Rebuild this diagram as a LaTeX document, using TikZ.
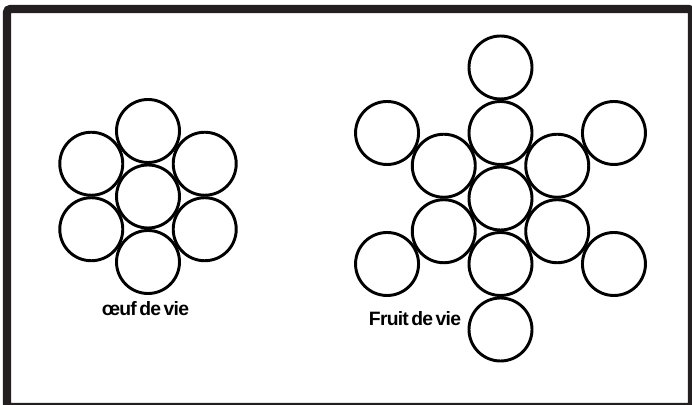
\documentclass[tikz,border=0pt]{standalone}
\usepackage{fontspec}
\setmainfont{Liberation Sans}
\newfontfamily\captionfont{Liberation Sans}[LetterSpace=-4,WordSpace=0.55]
\usetikzlibrary{positioning,calc}
\definecolor{FrameInk}{HTML}{231F20}

\tikzset{
  disc/.style={circle,draw=black,line width=2.5pt,minimum size=1.89cm,inner sep=0pt},
  caption/.style={font=\captionfont\fontsize{16.5}{16.5}\selectfont\bfseries,inner sep=0pt}
}

\begin{document}
\begin{tikzpicture}[x=0.03cm,y=0.03cm]
  \useasboundingbox (0,0) rectangle (692,405);
  \clip (0,0) rectangle (692,405);
  \draw[FrameInk,line width=0.25cm,rounded corners=3] (7,396) rectangle (692,-2);

  % egg of life
  \node[disc] (egg0) at (148,208.5) {};
  \foreach \a [count=\i] in {90,30,-30,-90,-150,150}
    \node[disc] (egg\i) at ($(egg0)+(\a:65.5)$) {};
  \node[caption] (egglabel) at (145.5,96) {œuf de vie};

  % fruit of life
  \node[disc] (fruit0) at (500.5,206.5) {};
  \foreach \a [count=\i] in {90,30,-30,-90,-150,150} {
    \node[disc] (fruit\i) at ($(fruit0)+(\a:65.5)$) {};
    \node[disc] (outer\i) at ($(fruit0)+(\a:131)$) {};
  }
  \node[caption] (fruitlabel) at (415,86) {Fruit de vie};
\end{tikzpicture}
\end{document}
